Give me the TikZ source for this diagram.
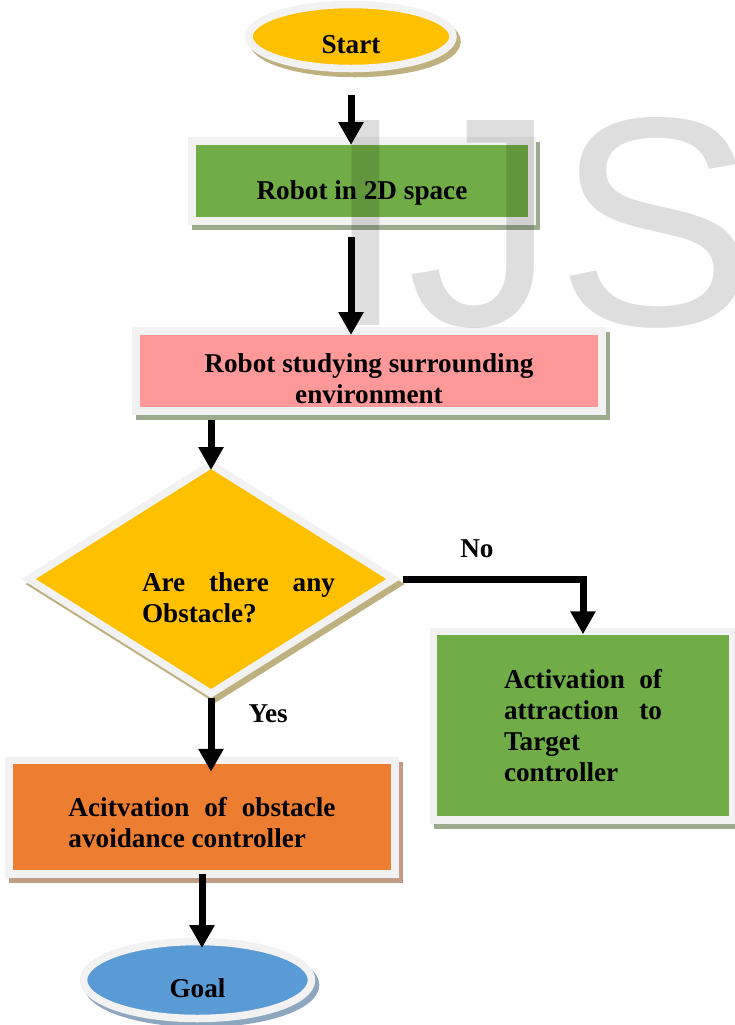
\documentclass[tikz,border=0pt]{standalone}
\usepackage{fontspec}
\setmainfont{Liberation Serif}
\newfontfamily\markfont{Liberation Sans}
\usepackage{xcolor}
\usepackage{tikz}
\usetikzlibrary{shapes.geometric, arrows.meta, shadows}
\definecolor{startyellow}{HTML}{FFC000}
\definecolor{boxgreen}{HTML}{70AD47}
\definecolor{boxpink}{HTML}{FF9999}
\definecolor{boxorange}{HTML}{ED7D31}
\definecolor{goalblue}{HTML}{5B9BD5}
\definecolor{rimgray}{HTML}{F2F2F2}
\definecolor{shadetan}{HTML}{BFB07F}
\definecolor{shadegreen}{HTML}{9CAA8E}
\definecolor{shadebrown}{HTML}{C29C84}
\definecolor{shadeblue}{HTML}{8EA7C0}
\tikzset{
    rim/.style={draw=rimgray, line width=3.75pt, inner sep=0pt, outer sep=0pt, text=black, font=\fontsize{13.6}{15.5}\selectfont\bfseries},
    castshadow/.style={drop shadow={shadow xshift=2pt, shadow yshift=-2.5pt, opacity=1, fill=#1, draw=#1, line width=3.75pt}},
    startstop/.style={rim, ellipse, text height=17pt, text depth=0pt},
    process/.style={rim, rectangle},
    decision/.style={rim, diamond},
    arrow/.style={line width=3.5pt, -{Triangle[width=12pt, length=11.5pt]}},
    branchlabel/.style={inner sep=0pt, font=\fontsize{13.6}{15.5}\selectfont\bfseries}
}

\begin{document}
\begin{tikzpicture}[x=0.5pt, y=-0.5pt]
    \useasboundingbox (0,0) rectangle (735,1025);

    \node (start) [startstop, fill=startyellow, castshadow=shadetan, minimum width=102pt, minimum height=32pt] at (351,36.5) {Start};
    \node (robot2d) [process, fill=boxgreen, castshadow=shadegreen, minimum width=170pt, minimum height=40pt, text height=21pt] at (362,181) {Robot in 2D space};
    \node (study) [process, fill=boxpink, castshadow=shadegreen, minimum width=233pt, minimum height=40pt, align=center, text height=33pt] at (369,371) {Robot studying surrounding\\environment};
    \node (ask) [decision, fill=startyellow, castshadow=shadetan, minimum width=182.5pt, minimum height=114.5pt] at (211,579) {};
    \node (asktext) [branchlabel, text width=96.5pt, align=justify] at (238.5,598) {Are there any\linebreak Obstacle?};
    \node (attract) [process, fill=boxgreen, castshadow=shadegreen, minimum width=149.75pt, minimum height=94.25pt, text width=79pt, align=justify] at (583,725.5) {Activation of\linebreak attraction to\linebreak Target\\controller};
    \node (avoid) [process, fill=boxorange, castshadow=shadebrown, minimum width=193pt, minimum height=56.75pt, text width=133.5pt, align=justify, text height=15pt] at (202,817) {Acitvation of obstacle\linebreak avoidance controller};
    \node (goal) [startstop, fill=goalblue, castshadow=shadeblue, minimum width=114pt, minimum height=38.5pt] at (197.5,980) {Goal};

    % watermark
    \node (mark) [anchor=base west, inner sep=0pt, text=black, text opacity=0.13, font=\markfont\fontsize{149}{149}\selectfont] at (324,325) {IJS};

    \draw [arrow, shorten <=13.25pt, shorten >=-2pt] (start.south) -- (start.south |- robot2d.north);
    \draw [arrow, shorten <=8pt, shorten >=-2pt] (robot2d.south -| start) -- (study.north -| start);
    \draw [arrow, shorten <=4.5pt, shorten >=-2.75pt] (study.south -| ask.north) -- (ask.north);
    \draw [arrow, shorten <=4.75pt, shorten >=-1.5pt] (ask.east) -| node[branchlabel, pos=0.22, anchor=base, yshift=11pt] {No} (attract.north);
    \draw [arrow, shorten <=2pt, shorten >=-5.75pt] (ask.south) -- node[branchlabel, pos=0.44, anchor=base west, xshift=17pt] {Yes} (ask.south |- avoid.north);
    \draw [arrow, shorten >=-3.25pt] (avoid.south) -- (avoid.south |- goal.north);
\end{tikzpicture}
\end{document}
